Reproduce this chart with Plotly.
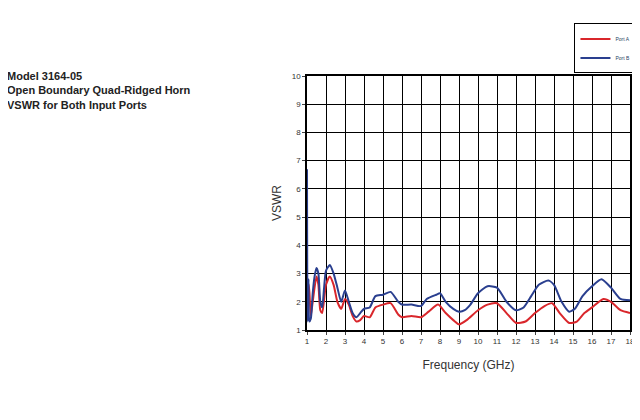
import plotly.graph_objects as go

# Port B (blue)
freq_b = [1.0, 1.03, 1.08, 1.12, 1.2, 1.3, 1.4, 1.5, 1.6, 1.7, 1.8, 1.9, 2.0, 2.2, 2.4, 2.6, 2.8, 3.0, 3.2,
          3.4, 3.6, 3.8, 4.0, 4.3, 4.6, 5.0, 5.4, 5.8, 6.0, 6.5, 7.0, 7.3, 7.8, 8.0, 8.3, 8.7, 9.0,
          9.3, 9.6, 10.0, 10.5, 11.0, 11.5, 12.0, 12.4, 12.8, 13.2, 13.7, 14.0, 14.4, 14.8, 15.1,
          15.5, 16.0, 16.5, 17.0, 17.5, 18.0]
vswr_b = [6.7, 1.3, 2.8, 1.3, 1.4, 2.3, 2.9, 3.2, 3.0, 2.0, 1.8, 2.5, 3.1, 3.3, 3.0, 2.5, 2.0, 2.4, 2.0,
          1.6, 1.45, 1.6, 1.75, 1.8, 2.2, 2.25, 2.35, 2.0, 1.9, 1.9, 1.85, 2.1, 2.25, 2.3, 2.0, 1.75, 1.65,
          1.7, 1.9, 2.3, 2.55, 2.5, 2.0, 1.7, 1.8, 2.2, 2.6, 2.75, 2.6, 2.0, 1.65, 1.75,
          2.2, 2.55, 2.8, 2.5, 2.1, 2.05]

# Port A (red)
freq_a = [1.0, 1.1, 1.2, 1.3, 1.5, 1.6, 1.7, 1.8, 2.0, 2.2, 2.4, 2.6, 2.8, 3.0, 3.2, 3.4, 3.6, 3.8,
          4.0, 4.3, 4.6, 5.0, 5.4, 5.8, 6.0, 6.5, 7.0, 7.4, 7.9, 8.3, 8.7, 9.0, 9.4, 10.0, 10.5, 11.0,
          11.5, 12.0, 12.5, 13.0, 13.5, 13.9, 14.3, 14.8, 15.2, 15.6, 16.0, 16.6, 17.0, 17.5, 18.0]
vswr_a = [2.0, 2.6, 1.5, 2.0, 2.9, 2.6, 1.7, 1.6, 2.6, 2.9, 2.6, 2.0, 1.75, 2.1, 1.9, 1.5, 1.3, 1.35,
          1.5, 1.45, 1.8, 1.9, 1.95, 1.55, 1.45, 1.5, 1.45, 1.65, 1.9, 1.6, 1.35, 1.2, 1.35, 1.7, 1.9, 1.95,
          1.6, 1.25, 1.3, 1.6, 1.85, 1.95, 1.6, 1.25, 1.3, 1.6, 1.8, 2.1, 2.0, 1.7, 1.6]

fig = go.Figure()
fig.add_trace(go.Scatter(x=freq_a, y=vswr_a, name="Port A", mode="lines",
                         line=dict(color="#d9262b", width=2, shape="spline", smoothing=0.6)))
fig.add_trace(go.Scatter(x=freq_b, y=vswr_b, name="Port B", mode="lines",
                         line=dict(color="#2a3f8f", width=2, shape="spline", smoothing=0.6)))

axis_common = dict(showline=True, linecolor="black", linewidth=1.5, mirror=True,
                   gridcolor="black", gridwidth=1, ticks="outside", ticklen=3,
                   tickfont=dict(size=8, color="#333"), zeroline=False)
fig.update_xaxes(range=[1, 18], dtick=1, title=dict(text="Frequency (GHz)", font=dict(size=12, color="#333")),
                 **axis_common)
fig.update_yaxes(range=[1, 10], dtick=1, title=dict(text="VSWR", font=dict(size=12, color="#333"), standoff=8),
                 **axis_common)

fig.add_annotation(xref="paper", yref="paper", x=-0.935, y=1.03, xanchor="left", yanchor="top",
                   align="left", showarrow=False,
                   text="<b>Model 3164-05<br>Open Boundary Quad-Ridged Horn<br>VSWR for Both Input Ports</b>",
                   font=dict(family="Liberation Sans, Arial", size=11, color="#222"))

fig.update_layout(width=640, height=420, margin=dict(l=299, r=14, t=68, b=98),
                  paper_bgcolor="white", plot_bgcolor="white",
                  font=dict(family="Liberation Sans, Arial"),
                  legend=dict(x=1.02, y=1.01, xanchor="right", yanchor="bottom",
                              bordercolor="black", borderwidth=1, font=dict(size=5),
                              tracegroupgap=0, itemwidth=30))
fig.write_html("out.html")
